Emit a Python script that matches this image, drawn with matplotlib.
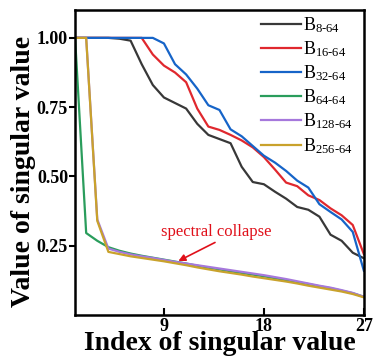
import numpy as np
import matplotlib
matplotlib.use("Agg")
import matplotlib.pyplot as plt

# Fonts: Times-like serif everywhere
plt.rcParams["font.family"] = ["Liberation Serif", "DejaVu Serif"]
plt.rcParams["mathtext.fontset"] = "custom"
plt.rcParams["mathtext.rm"] = "Liberation Serif"
plt.rcParams["mathtext.it"] = "Liberation Serif:italic"
plt.rcParams["mathtext.bf"] = "Liberation Serif:bold"

# Singular value index
index = np.arange(1, 28)

# Normalised singular values
b8 = [1.0, 1.0, 1.0, 1.0, 0.997, 0.99, 0.905, 0.83, 0.785, 0.765, 0.745,
      0.69, 0.65, 0.635, 0.62, 0.535, 0.48, 0.472, 0.445, 0.42, 0.39,
      0.38, 0.355, 0.29, 0.268, 0.225, 0.205]
b16 = [1.0, 1.0, 1.0, 1.0, 1.0, 1.0, 1.0, 0.94, 0.90, 0.875, 0.84,
       0.745, 0.68, 0.668, 0.65, 0.63, 0.605, 0.57, 0.525, 0.478, 0.465,
       0.432, 0.415, 0.385, 0.36, 0.325, 0.22]
b32 = [1.0, 1.0, 1.0, 1.0, 1.0, 1.0, 1.0, 1.0, 0.98, 0.905, 0.868,
       0.817, 0.757, 0.74, 0.67, 0.645, 0.61, 0.575, 0.55, 0.52, 0.485,
       0.46, 0.40, 0.372, 0.345, 0.30, 0.16]
b64 = [1.0, 0.296, 0.268, 0.245, 0.232, 0.222, 0.214, 0.207, 0.200, 0.193,
       0.186, 0.178, 0.171, 0.165, 0.158, 0.152, 0.146, 0.140, 0.133, 0.126,
       0.119, 0.112, 0.104, 0.097, 0.088, 0.079, 0.066]
b128 = [1.0, 1.0, 0.345, 0.24, 0.228, 0.219, 0.212, 0.206, 0.199, 0.192,
        0.186, 0.180, 0.174, 0.168, 0.162, 0.156, 0.150, 0.144, 0.137, 0.130,
        0.122, 0.114, 0.106, 0.099, 0.090, 0.080, 0.066]
b256 = [1.0, 1.0, 0.340, 0.228, 0.220, 0.212, 0.206, 0.200, 0.194, 0.187,
        0.180, 0.172, 0.165, 0.158, 0.152, 0.146, 0.139, 0.133, 0.127, 0.121,
        0.114, 0.106, 0.099, 0.092, 0.085, 0.076, 0.064]

series = [b8, b16, b32, b64, b128, b256]
labels = [r"B$_{\text{8-64}}$", r"B$_{\text{16-64}}$", r"B$_{\text{32-64}}$",
          r"B$_{\text{64-64}}$", r"B$_{\text{128-64}}$", r"B$_{\text{256-64}}$"]
colors = ["#383838", "#e0282e", "#1664c8", "#2a9d5c", "#a678dc", "#c9a22c"]

fig = plt.figure(figsize=(3.83, 3.63), dpi=100)
ax = fig.add_axes([0.196, 0.132, 0.754, 0.840])

for vals, lab, col in zip(series, labels, colors):
    ax.plot(index, vals, color=col, linewidth=1.6, label=lab)

ax.set_xlim(1, 27)
ax.set_ylim(0, 1.1)
ax.set_xticks([9, 18, 27])
ax.set_yticks([0.25, 0.5, 0.75, 1.0])
ax.set_yticklabels(["0.25", "0.50", "0.75", "1.00"])

ax.tick_params(axis="x", direction="in", length=5, width=1.5, pad=2, labelsize=13)
ax.tick_params(axis="y", direction="out", length=4, width=1.5, pad=1, labelsize=13)
for lbl in ax.get_xticklabels() + ax.get_yticklabels():
    lbl.set_fontweight("bold")
for sp in ax.spines.values():
    sp.set_linewidth(1.8)

ax.set_xlabel("Index of singular value", fontsize=20, fontweight="bold", labelpad=-3)
ax.set_ylabel("Value of singular value", fontsize=20, fontweight="bold", labelpad=1)
ax.yaxis.set_label_coords(-0.135, 0.47)

leg = ax.legend(loc="upper right", bbox_to_anchor=(1.0, 1.02), frameon=False,
                fontsize=13, handlelength=2.2, handletextpad=0.15,
                labelspacing=0.25, borderaxespad=0.2)

# annotation for the collapsed spectra
ax.text(13.7, 0.30, "spectral collapse", color="#e0101a", fontsize=12,
        ha="center", va="center")
ax.annotate("", xy=(10.3, 0.195), xytext=(13.6, 0.262),
            arrowprops=dict(arrowstyle="-|>", color="#e0101a", lw=1.2,
                            mutation_scale=10, shrinkA=0, shrinkB=0))

fig.savefig("out.png", dpi=100)
